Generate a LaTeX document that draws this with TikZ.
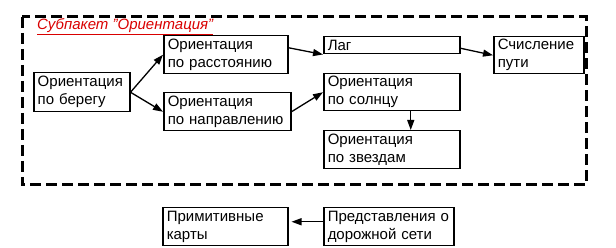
\documentclass[tikz,border=0pt]{standalone}
\usepackage{fontspec}
\setmainfont{Liberation Sans}
\usetikzlibrary{arrows.meta,calc}
\begin{document}
\begin{tikzpicture}[x=1pt,y=-1pt,
  box/.style={draw, line width=1.5pt, anchor=north west, inner xsep=4pt, inner ysep=0pt, align=left, font=\fontsize{15}{18}\selectfont},
  arr/.style={-{Triangle[length=10pt,width=7pt]}, line width=1.3pt},
  frame/.style={line width=3pt, dash pattern=on 11pt off 5pt},
  titlestyle/.style={anchor=base west, inner sep=0pt, text=red!85!black, font=\fontsize{15}{18}\selectfont\itshape}
]
\useasboundingbox (0,0) rectangle (616,248);
\draw[frame] (22,17) rectangle (586,185);
\node[titlestyle] (title) at (37,30) {\underline{Субпакет \symbol{34}Ориентация\symbol{34}}};

\node[box, text width=88pt, minimum height=39pt] (bereg) at (33,72) {Ориентация\\по берегу};
\node[box, text width=116pt, minimum height=38pt] (rass) at (163,35) {Ориентация\\по расстоянию};
\node[box, text width=119pt, minimum height=38pt] (napr) at (163,92) {Ориентация\\по направлению};
\node[box, text width=128pt, minimum height=17pt] (lag) at (323,36) {Лаг};
\node[box, text width=82pt, minimum height=37pt] (schisl) at (493,36) {Счисление\\пути};
\node[box, text width=128pt, minimum height=37pt] (solnce) at (323,73) {Ориентация\\по солнцу};
\node[box, text width=128pt, minimum height=38pt] (zvezd) at (323,130) {Ориентация\\по звездам};
\node[box, text width=117pt, minimum height=38pt] (prim) at (162,207) {Примитивные\\карты};
\node[box, text width=122pt, minimum height=38pt] (pred) at (323,207) {Представления о\\дорожной сети};

\draw[arr] (bereg.east) -- (rass.west);
\draw[arr] (bereg.east) -- (napr.west);
\draw[arr] ($(rass.east)+(0,-7)$) -- (lag.south west);
\draw[arr] (napr.east) -- (solnce.west);
\draw[arr] ($(lag.east)+(0,3)$) -- (schisl.west);
\draw[arr] ($(solnce.south)+(19,0)$) -- ($(zvezd.north)+(19,0)$);
\draw[arr] ($(pred.west)+(0,-5)$) -- ($(prim.east)+(3,-5)$);
\end{tikzpicture}
\end{document}
